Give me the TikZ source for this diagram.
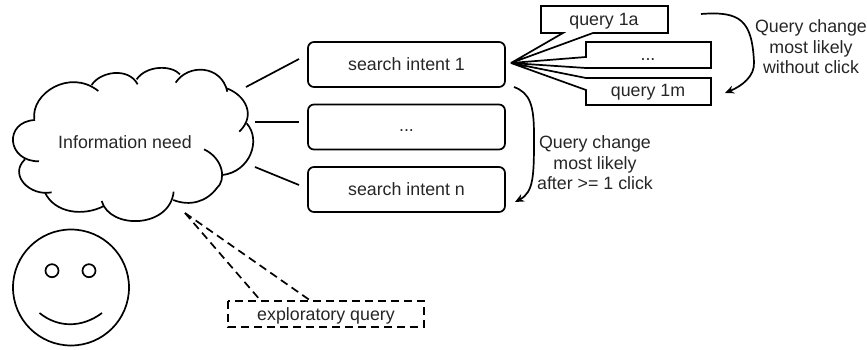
\documentclass[tikz,border=0pt]{standalone}
\usepackage{fontspec}
\setmainfont{Liberation Sans}
\usetikzlibrary{arrows.meta}
\tikzset{
  line/.style={draw=black,line width=1.7pt},
  intent/.style={line,rounded corners=6pt,minimum width=197pt,minimum height=45pt,inner sep=0pt,anchor=center,font=\fontsize{17.8}{21}\selectfont,text=black!85},
  label/.style={font=\fontsize{17.8}{20.6}\selectfont,text=black!85,inner sep=0pt,align=center},
  curved/.style={line,-{Stealth[length=9pt,width=8pt]}},
  dashline/.style={line,dash pattern=on 8pt off 5pt},
  ring/.style={draw=black,line width=1.7pt,circle,inner sep=0pt},
}
\begin{document}
\begin{tikzpicture}[x=1pt,y=-1pt]
\useasboundingbox (0,0) rectangle (867,350);
% cloud
\begin{scope}[shift={(0,40)},x=0.3333pt,y=-0.3333pt,line]
\draw[line] (103,238) .. controls (92,160) and (210,85) .. (295,153);
\draw[line] (275,135) .. controls (300,95) and (385,80) .. (413,133);
\draw[line] (410,118) .. controls (440,75) and (515,75) .. (540,103);
\draw[line] (527,128) .. controls (565,70) and (665,75) .. (682,155);
\draw[line] (680,145) .. controls (735,165) and (770,225) .. (718,275);
\draw[line] (740,250) .. controls (785,300) and (750,395) .. (668,405);
\draw[line] (612,328) .. controls (670,355) and (680,420) .. (650,445) .. controls (620,485) and (570,500) .. (520,480);
\draw[line] (521,455) .. controls (510,565) and (330,570) .. (305,483);
\draw[line] (312,498) .. controls (250,530) and (165,520) .. (135,458);
\draw[line] (155,457) .. controls (90,470) and (25,405) .. (75,358);
\draw[line] (117,364) .. controls (20,365) and (10,245) .. (105,240);
\end{scope}
\node[label] (need) at (125,142) {Information need};
\coordinate (c1) at (246,87);
\coordinate (c2) at (255,122);
\coordinate (c3) at (255,167);
\coordinate (ctip) at (185,213);
\coordinate (e1) at (299,59);
\coordinate (e2) at (299,122);
\coordinate (e3) at (299,185);
% intents
\node[intent,draw] (i1) at (406.5,64.5) {search intent 1};
\node[intent,draw] (i2) at (406.5,127) {\raisebox{-5pt}[0pt][0pt]{...}};
\node[intent,draw] (i3) at (406.5,189.5) {search intent n};
\draw[line] (c1) -- (e1);
\draw[line] (c2) -- (e2);
\draw[line] (c3) -- (e3);
% callouts
\coordinate (tip) at (511,63);
\node[label] (qa) at (604,21) {query 1a};
\node[label] (qd) at (648,60) {...};
\node[label] (qm) at (648,92) {query 1m};
\draw[line,line join=miter] (tip) -- (563,33) -- (541,33) -- (541,6) -- (668,6) -- (668,33) -- (593,33) -- cycle;
\draw[line,line join=miter] (tip) -- (586,57) -- (586,42) -- (711,42) -- (711,68) -- (586,68) -- cycle;
\draw[line,line join=miter] (tip) -- (586,78) -- (711,78) -- (711,105) -- (586,105) -- (586,90) -- cycle;
% curved arrows
\coordinate (a1s) at (701,14);
\coordinate (a1e) at (725,93);
\draw[curved] (a1s) .. controls (740,11) and (752,20) .. (754,62) .. controls (755,76) and (742,86) .. (a1e);
\coordinate (a2s) at (514,87);
\coordinate (a2e) at (515,202);
\draw[curved] (a2s) .. controls (530,93) and (534,105) .. (534,135) .. controls (534,175) and (534,192) .. (a2e);
\node[label] (t1) at (811,47) {Query change\\most likely\\without click};
\node[label] (t2) at (595,163) {Query change\\most likely\\after >= 1 click};
% exploratory
\node[label] (ex) at (326,316) {exploratory query};
\draw[dashline] (228,301) rectangle (424,327);
\draw[dashline] (ctip) -- (261,301);
\draw[dashline] (ctip) -- (311,301);
% smiley
\node[ring,minimum size=116pt] (face) at (71,287.5) {};
\node[ring,minimum size=13pt] (eye1) at (52,270.7) {};
\node[ring,minimum size=13pt] (eye2) at (89,270.7) {};
\draw[line] (39.5,313) .. controls (58,328) and (82,328) .. (102,313);
\end{tikzpicture}
\end{document}
